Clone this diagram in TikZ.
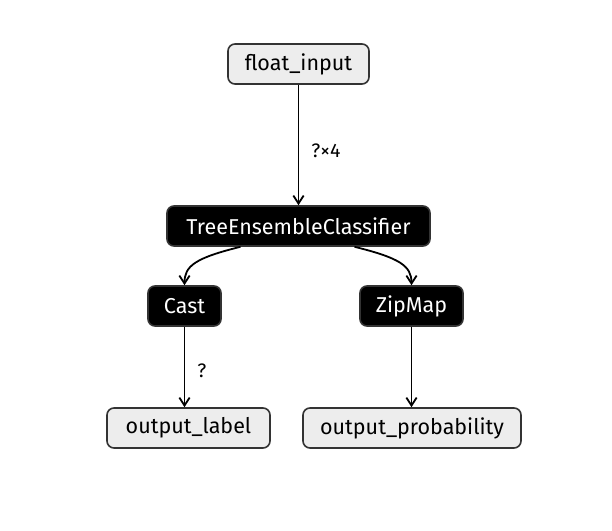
\documentclass[tikz,border=0pt]{standalone}
\usepackage{fontspec}
\setmainfont{Fira Sans}
\usetikzlibrary{arrows.meta,positioning,calc}

\begin{document}
\begin{tikzpicture}[x=1pt, y=-1pt, every node/.style={font=\fontsize{21.5}{25}\selectfont},
  iobox/.style={draw=black!80, line width=1.6pt, fill=black!7, rounded corners=7pt, minimum height=40pt, inner sep=0pt},
  opbox/.style={draw=black!80, line width=1.6pt, fill=black, text=white, rounded corners=7pt, minimum height=40pt, inner sep=0pt},
  arrow/.style={-{Straight Barb[length=2.8mm, width=3.6mm]}, line width=1.8pt},
  shape lbl/.style={right, font=\fontsize{19.5}{23}\selectfont, inner sep=0pt, xshift=12pt}]
\useasboundingbox (0,0) rectangle (612,530);
\node[iobox, minimum width=141pt] (floatin) at (298.5,64) {float\_input};
\node[opbox, minimum width=263pt] (tec) at (298.5,226) {TreeEnsembleClassifier};
\node[opbox, minimum width=73pt] (cast) at (184.5,306) {Cast};
\node[opbox, minimum width=103pt] (zipmap) at (411.5,306) {ZipMap};
\node[iobox, minimum width=163pt] (outlabel) at (188.5,428) {output\_label};
\node[iobox, minimum width=218pt] (outprob) at (412,428) {output\_probability};
\draw[arrow] (floatin) -- node[shape lbl, pos=0.55]{?×4} (tec);
\draw[arrow] ($(tec.south)+(-58,0)$) .. controls (195,258) and (184.5,266) .. (cast.north);
\draw[arrow] ($(tec.south)+(56,0)$) .. controls (400,258) and (411.5,266) .. (zipmap.north);
\draw[arrow] (cast) -- node[shape lbl, pos=0.55]{?} (cast |- outlabel.north);
\draw[arrow] (zipmap) -- (zipmap |- outprob.north);
\end{tikzpicture}
\end{document}
